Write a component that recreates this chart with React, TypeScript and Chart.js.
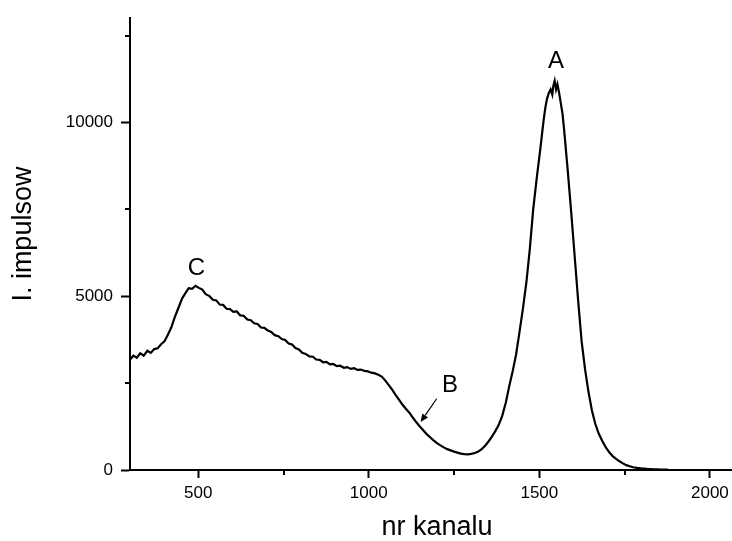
import { useEffect, useRef } from 'react';
import { Chart, registerables } from 'chart.js';

Chart.register(...registerables);

const channels = [
  300, 310, 320, 330, 340, 351, 361, 371, 381, 391,
  401, 411, 421, 431, 441, 452, 462, 472, 482, 492,
  502, 512, 522, 532, 543, 553, 563, 573, 583, 593,
  603, 613, 623, 633, 644, 654, 664, 674, 684, 694,
  704, 714, 724, 735, 745, 755, 765, 775, 785, 795,
  805, 815, 826, 836, 846, 856, 866, 876, 886, 896,
  906, 916, 927, 937, 947, 957, 967, 977, 987, 997,
  1007, 1018, 1028, 1038, 1048, 1058, 1068, 1078, 1088, 1098,
  1108, 1119, 1129, 1139, 1149, 1159, 1169, 1179, 1189, 1199,
  1210, 1220, 1230, 1240, 1250, 1260, 1270, 1280, 1290, 1300,
  1311, 1321, 1331, 1341, 1351, 1361, 1371, 1381, 1391, 1402,
  1412, 1422, 1432, 1442, 1452, 1462, 1472, 1482, 1493, 1503,
  1513, 1518, 1523, 1528, 1533, 1538, 1541, 1545, 1549, 1553,
  1558, 1563, 1568, 1573, 1583, 1594, 1604, 1614, 1624, 1634,
  1644, 1654, 1664, 1674, 1685, 1695, 1705, 1715, 1725, 1735,
  1745, 1755, 1765, 1775, 1786, 1796, 1806, 1816, 1826, 1836,
  1846, 1856, 1866, 1877,
];

const counts = [
  3180, 3290, 3230, 3360, 3290, 3430, 3370, 3480, 3500, 3620,
  3700, 3890, 4100, 4390, 4640, 4920, 5080, 5230, 5210, 5300,
  5240, 5190, 5060, 5010, 4900, 4880, 4760, 4750, 4640, 4630,
  4550, 4560, 4450, 4440, 4330, 4310, 4220, 4200, 4100, 4090,
  4010, 3970, 3880, 3850, 3770, 3740, 3640, 3610, 3510, 3470,
  3370, 3340, 3270, 3260, 3180, 3170, 3100, 3110, 3040, 3050,
  2990, 3000, 2940, 2960, 2910, 2930, 2880, 2890, 2850, 2840,
  2800, 2780, 2740, 2690, 2580, 2450, 2320, 2170, 2030, 1890,
  1770, 1650, 1510, 1380, 1260, 1150, 1040, 950, 860, 780,
  710, 650, 600, 565, 530, 500, 470, 455, 450, 465,
  490, 530, 600, 700, 820, 960, 1120, 1300, 1550, 1950,
  2420, 2850, 3330, 3980, 4650, 5400, 6350, 7500, 8450, 9250,
  10100, 10450, 10700, 10850, 10950, 10800, 11050, 11200, 10950, 11100,
  10850, 10550, 10250, 9750, 8650, 7350, 6100, 4850, 3700, 2900,
  2250, 1720, 1330, 1050, 830, 650, 510, 400, 320, 250,
  190, 140, 110, 80, 60, 50, 40, 30, 25, 20,
  20, 15, 15, 10,
];

const xMajorTicks = [500, 1000, 1500, 2000];
const yMajorTicks = [0, 5000, 10000];
const xMinorTicks = [750, 1250, 1750];
const yMinorTicks = [2500, 7500, 12500];

const peakLabels = [
  { text: 'A', x: 1549, y: 11750 },
  { text: 'B', x: 1238, y: 2430 },
  { text: 'C', x: 495, y: 5800 },
];

const arrowFrom = { x: 1199, y: 2050 };
const arrowTo = { x: 1152, y: 1380 };

const xTitle = 'nr kanalu';
const yTitle = 'I. impulsow';

const FONT = "'Liberation Sans', Arial, Helvetica, sans-serif";

const decorPlugin = {
  id: 'decor',
  afterDraw(chart: any) {
    const ctx = chart.ctx;
    const xs = chart.scales.x;
    const ys = chart.scales.y;
    ctx.save();
    ctx.strokeStyle = '#000';
    ctx.fillStyle = '#000';
    ctx.lineWidth = 2;
    xMinorTicks.forEach((v) => {
      const px = Math.round(xs.getPixelForValue(v));
      ctx.beginPath();
      ctx.moveTo(px, xs.top);
      ctx.lineTo(px, xs.top + 5);
      ctx.stroke();
    });
    yMinorTicks.forEach((v) => {
      const py = Math.round(ys.getPixelForValue(v));
      ctx.beginPath();
      ctx.moveTo(ys.right, py);
      ctx.lineTo(ys.right - 5, py);
      ctx.stroke();
    });

    ctx.font = `24px ${FONT}`;
    ctx.textAlign = 'center';
    ctx.textBaseline = 'middle';
    peakLabels.forEach((l) => {
      ctx.fillText(l.text, xs.getPixelForValue(l.x), ys.getPixelForValue(l.y));
    });

    // y axis title
    ctx.save();
    ctx.font = `27px ${FONT}`;
    ctx.translate(ys.left + 24, (ys.top + ys.bottom) / 2 - 10);
    ctx.rotate(-Math.PI / 2);
    ctx.fillText(yTitle, 0, 0);
    ctx.restore();

    const x1 = xs.getPixelForValue(arrowFrom.x);
    const y1 = ys.getPixelForValue(arrowFrom.y);
    const x2 = xs.getPixelForValue(arrowTo.x);
    const y2 = ys.getPixelForValue(arrowTo.y);
    const ang = Math.atan2(y2 - y1, x2 - x1);
    const hl = 8;
    const hw = 3.5;
    const bx = x2 - hl * Math.cos(ang);
    const by = y2 - hl * Math.sin(ang);
    ctx.lineWidth = 1.2;
    ctx.beginPath();
    ctx.moveTo(x1, y1);
    ctx.lineTo(bx, by);
    ctx.stroke();
    ctx.beginPath();
    ctx.moveTo(x2, y2);
    ctx.lineTo(bx + hw * Math.sin(ang), by - hw * Math.cos(ang));
    ctx.lineTo(bx - hw * Math.sin(ang), by + hw * Math.cos(ang));
    ctx.closePath();
    ctx.fill();
    ctx.restore();
  },
};

export default function App() {
  const canvasRef = useRef<HTMLCanvasElement>(null);

  useEffect(() => {
    if (!canvasRef.current) return;
    Chart.defaults.font.family = FONT;
    const points = channels.map((c, i) => ({ x: c, y: counts[i] }));
    const chart = new Chart(canvasRef.current, {
      type: 'line',
      data: {
        datasets: [
          {
            data: points,
            borderColor: '#000',
            borderWidth: 2.2,
            pointRadius: 0,
            tension: 0,
            fill: false,
          },
        ],
      },
      options: {
        animation: false,
        responsive: false,
        devicePixelRatio: 1,
        layout: { padding: { left: 0, right: 16, top: 15, bottom: 0 } },
        plugins: {
          legend: { display: false },
          tooltip: { enabled: false },
        },
        scales: {
          x: {
            type: 'linear',
            position: 'bottom',
            min: 300,
            max: 2100,
            afterBuildTicks: (scale: any) => {
              scale.ticks = xMajorTicks.map((v) => ({ value: v }));
            },
            afterFit: (scale: any) => {
              scale.height = 71;
            },
            ticks: {
              autoSkip: false,
              maxRotation: 0,
              color: '#000',
              padding: 5,
              font: { size: 17, family: FONT },
              callback: (v: any) => String(v),
            },
            grid: {
              display: true,
              drawOnChartArea: false,
              drawTicks: true,
              tickLength: 8,
              tickColor: '#000',
              tickWidth: 2,
            },
            border: { display: true, color: '#000', width: 2 },
            title: {
              display: true,
              text: xTitle,
              color: '#000',
              font: { size: 27, family: FONT, lineHeight: 1 },
              padding: { top: 0, bottom: 0 },
            },
          },
          y: {
            type: 'linear',
            min: 0,
            max: 13000,
            afterBuildTicks: (scale: any) => {
              scale.ticks = yMajorTicks.map((v) => ({ value: v }));
            },
            afterFit: (scale: any) => {
              scale.width = 130;
            },
            ticks: {
              color: '#000',
              padding: 8,
              font: { size: 17, family: FONT },
              callback: (v: any) => String(v),
            },
            grid: {
              display: true,
              drawOnChartArea: false,
              drawTicks: true,
              tickLength: 9,
              tickColor: '#000',
              tickWidth: 2,
            },
            border: { display: true, color: '#000', width: 2 },
            title: { display: false },
          },
        },
      },
      plugins: [decorPlugin],
    });
    return () => chart.destroy();
  }, []);

  return (
    <div
      style={{
        position: 'fixed',
        left: 0,
        top: 0,
        width: 732,
        height: 541,
        overflow: 'hidden',
        background: '#fff',
      }}
    >
      <canvas ref={canvasRef} width={760} height={541} style={{ width: 760, height: 541, display: 'block' }} />
    </div>
  );
}
